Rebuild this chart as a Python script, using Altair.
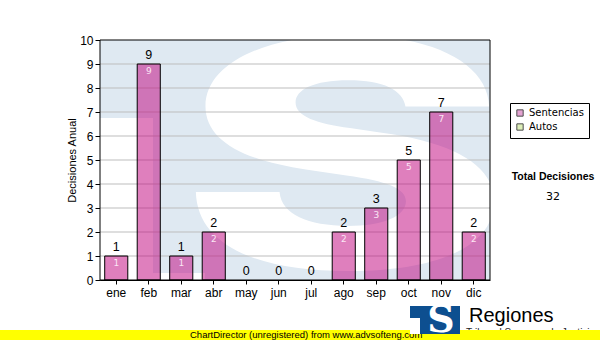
import base64
import altair as alt
import pandas as pd

# ---- data ----
months = ["ene", "feb", "mar", "abr", "may", "jun", "jul", "ago", "sep", "oct", "nov", "dic"]
sentencias = [1, 9, 1, 2, 0, 0, 0, 2, 3, 5, 7, 2]
series_names = ["Sentencias", "Autos"]
series_colors = ["#d97dbf", "#cfe89c"]
y_ticks = [0, 1, 2, 3, 4, 5, 6, 7, 8, 9, 10]
y_title = "Decisiones Anual"
total_label = "Total Decisiones"
footer_text = "ChartDirector (unregistered) from www.advsofteng.com"
brand = "Regiones"
brand_sub = "Tribunal Supremo de Justicia"

W, H = 390, 240

bars_df = pd.DataFrame({"mes": months, "valor": sentencias})
grid_df = pd.DataFrame({"valor": y_ticks[1:-1]})
legend_df = pd.DataFrame({"serie": series_names})
one = pd.DataFrame({"k": [0]})
total_df = pd.DataFrame({"total": [str(sum(sentencias))]})

FONT = "Liberation Sans"

# ---- decorative watermark (logo drawn as an SVG picture behind the plot) ----
SX = 1.6
wm_svg = (
    f'<svg xmlns="http://www.w3.org/2000/svg" width="{W}" height="{H}" viewBox="0 0 {W} {H}">'
    f'<rect x="0" y="0" width="{W}" height="{H}" fill="#dfe9f2"/>'
    f'<rect x="0" y="78" width="53" height="{H - 78}" fill="#ffffff"/>'
    f'<rect x="0" y="233" width="105" height="7" fill="#ffffff"/>'
    f'<text transform="scale({SX},1)" x="{245 / SX:.2f}" y="228" text-anchor="middle" '
    f'font-family="Inter" font-weight="800" font-size="316" fill="#ffffff">S</text>'
    f'</svg>'
)
wm_url = "data:image/svg+xml;base64," + base64.b64encode(wm_svg.encode("utf-8")).decode("ascii")

y_scale = alt.Scale(domain=[0, 10], nice=False)
y_axis = alt.Axis(values=y_ticks, title=y_title, grid=False, domainColor="black",
                  tickColor="black", tickSize=5, labelFontSize=12, labelFont=FONT,
                  labelColor="black", titleFont=FONT, titleFontSize=11,
                  titleFontWeight="normal", titleColor="black", titlePadding=2,
                  labelPadding=2)
x_scale = alt.Scale(domain=months, paddingInner=0.29, paddingOuter=0.145)
x_axis = alt.Axis(title=None, labelAngle=0, domainColor="black", tickColor="black",
                  tickSize=4, labelFontSize=12, labelFont=FONT, labelColor="black",
                  labelPadding=3)

X = alt.X("mes:N", scale=x_scale, axis=x_axis, sort=months)
Y = alt.Y("valor:Q", scale=y_scale, axis=y_axis)


def box(x1, x2, y1, y2, color):
    return alt.Chart(one).mark_rect(fill=color).encode(
        x=alt.value(x1), x2=alt.value(x2), y=alt.value(y1), y2=alt.value(y2))


watermark = alt.Chart(one).mark_image(width=W, height=H, align="left", baseline="top",
                                      aspect=False).encode(
    x=alt.value(0), y=alt.value(0), url=alt.value(wm_url))

grid = alt.Chart(grid_df).mark_rule(color="#bdbdbd", strokeWidth=1).encode(y=Y)

bars = alt.Chart(bars_df).transform_filter("datum.valor > 0").mark_bar(
    fill="#c0007c", fillOpacity=0.5, stroke="black", strokeWidth=1).encode(x=X, y=Y)

top_labels = alt.Chart(bars_df).mark_text(baseline="bottom", dy=-2, fontSize=12.5,
                                          font=FONT, color="black").encode(
    x=X, y=Y, text="valor:Q")

in_labels = alt.Chart(bars_df).transform_filter("datum.valor > 0").mark_text(
    baseline="top", dy=3, fontSize=9, font="DejaVu Sans", color="#fbe6f4").encode(
    x=X, y=Y, text="valor:Q")

legend_proxy = alt.Chart(legend_df).mark_square(size=30).encode(
    x=alt.value(-400), y=alt.value(-400),
    color=alt.Color("serie:N", scale=alt.Scale(domain=series_names, range=series_colors),
                    sort=series_names,
                    legend=alt.Legend(title=None, orient="none", legendX=410, legendY=63,
                                      strokeColor="black", fillColor="white", padding=5,
                                      symbolType="square", symbolSize=40,
                                      symbolStrokeColor="black", symbolStrokeWidth=1,
                                      labelFont="DejaVu Sans", labelFontSize=10,
                                      labelColor="black", rowPadding=2, labelOffset=4,
                                      labelExpr="datum.label + '\u00a0\u00a0\u00a0'")))

total_title = alt.Chart(one).mark_text(text=total_label, font=FONT, fontWeight="bold",
                                       fontSize=10.5, color="black", align="center",
                                       baseline="middle").encode(
    x=alt.value(453), y=alt.value(137))
total_value = alt.Chart(total_df).mark_text(font="DejaVu Sans", fontSize=11,
                                            color="black", align="center",
                                            baseline="middle").encode(
    x=alt.value(453), y=alt.value(157), text="total:N")

sub_text = alt.Chart(one).mark_text(text=brand_sub, font=FONT, fontSize=10,
                                    color="#222222", align="left", baseline="top").encode(
    x=alt.value(366), y=alt.value(288))
yellow = box(-100, 500, 290, 300, "#ffff00")
footer = alt.Chart(one).mark_text(text=footer_text, font=FONT, fontSize=9.5,
                                  color="black", align="left", baseline="middle").encode(
    x=alt.value(90), y=alt.value(295))

logo_bg = box(310, 360, 266, 294, "#0d4f90")
logo_cut = box(310, 320, 278, 294, "#ffffff")
logo_s = alt.Chart(one).mark_text(text="S", font="DejaVu Serif", fontWeight="bold",
                                  fontSize=38, fill="#ffffff", align="center",
                                  baseline="alphabetic").encode(
    x=alt.value(341), y=alt.value(292))
brand_text = alt.Chart(one).mark_text(text=brand, font=FONT, fontSize=20, color="black",
                                      align="left", baseline="alphabetic").encode(
    x=alt.value(369), y=alt.value(282))

border = alt.Chart(one).mark_rect(fillOpacity=0, stroke="black", strokeWidth=1).encode(
    x=alt.value(0), x2=alt.value(W), y=alt.value(0), y2=alt.value(H))

chart = alt.layer(
    watermark, grid, bars, top_labels, in_labels, legend_proxy,
    total_title, total_value, sub_text, yellow, footer, logo_bg, logo_cut, logo_s,
    brand_text, border
).properties(
    width=W, height=H,
    padding={"left": 100, "top": 40, "right": 110, "bottom": 60},
    autosize="none", background="white"
).configure_view(stroke=None)

chart.save("out.html", embed_options={"renderer": "svg", "actions": False})
